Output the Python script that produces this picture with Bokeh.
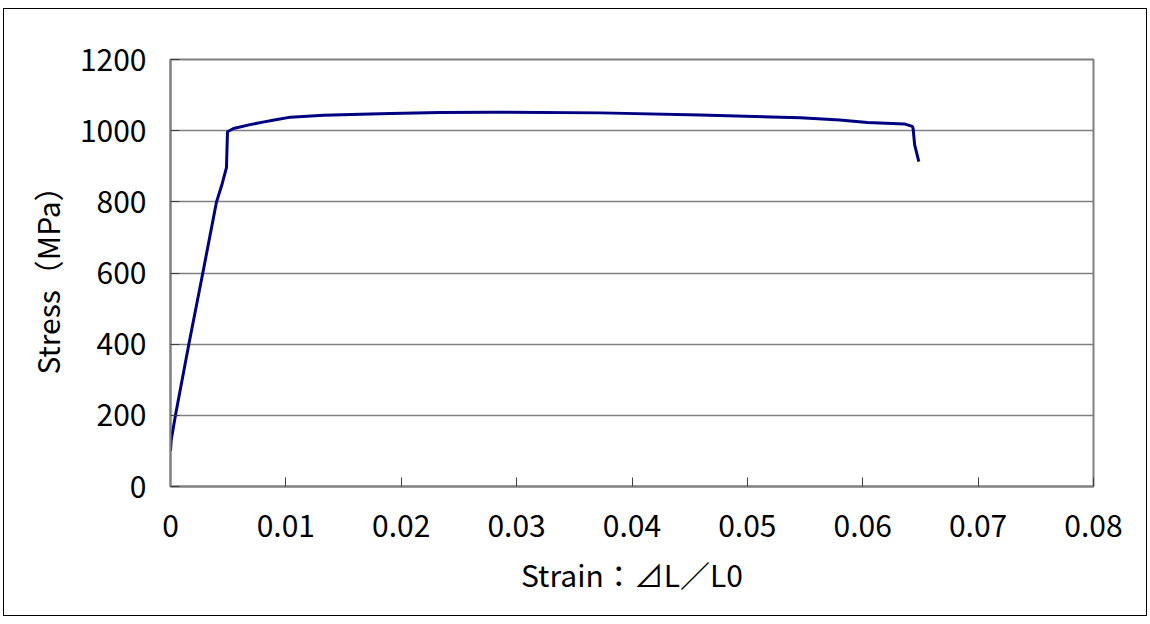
from bokeh.plotting import figure
from bokeh.models import FixedTicker, CustomJSTickFormatter, Range1d
from bokeh.embed import file_html
from bokeh.resources import INLINE

# Data
strain = [0.0, 0.00006, 0.00043, 0.00159, 0.0028, 0.00399, 0.00448, 0.00485,
          0.00494, 0.00546, 0.0069, 0.0080, 0.0090, 0.0104, 0.01326, 0.0165,
          0.01907, 0.0234, 0.0277, 0.0373, 0.0459, 0.0546, 0.0580, 0.0604,
          0.0636, 0.0643, 0.06436, 0.0645, 0.06486]
stress = [100, 130, 200, 400, 600, 800, 851, 896,
          997, 1006, 1017, 1024, 1030, 1038, 1043, 1046,
          1048, 1051, 1052, 1050, 1044, 1036, 1030, 1023,
          1019, 1012, 1007, 960, 913]

x_ticks = [0, 0.01, 0.02, 0.03, 0.04, 0.05, 0.06, 0.07, 0.08]
y_ticks = [0, 200, 400, 600, 800, 1000, 1200]

FONT = "Noto Sans CJK JP"

p = figure(width=1144, height=608, output_backend="svg", toolbar_location=None,
           x_range=Range1d(0, 0.08), y_range=Range1d(0, 1200),
           min_border_left=166, min_border_right=55, min_border_top=50,
           min_border_bottom=131)
p.styles = {"margin-left": "3px", "margin-top": "8px", "border": "1px solid black"}

p.line(strain, stress, line_color="#000080", line_width=3)

p.outline_line_color = "#808080"
p.outline_line_width = 2

p.xgrid.grid_line_color = None
p.ygrid.grid_line_color = "#808080"
p.ygrid.grid_line_width = 1.5
p.ygrid.ticker = FixedTicker(ticks=y_ticks)

for ax in (p.xaxis[0], p.yaxis[0]):
    ax.axis_line_color = "#808080"
    ax.axis_line_width = 2
    ax.major_tick_in = 9
    ax.major_tick_out = 0
    ax.major_tick_line_color = "#404040"
    ax.major_tick_line_width = 1
    ax.minor_tick_line_color = None
    ax.major_label_text_font = FONT
    ax.major_label_text_font_size = "30px"
    ax.major_label_text_color = "black"
    ax.axis_label_text_font = FONT
    ax.axis_label_text_font_size = "30px"
    ax.axis_label_text_font_style = "normal"
    ax.axis_label_text_color = "black"

p.xaxis.ticker = FixedTicker(ticks=x_ticks)
p.yaxis.ticker = FixedTicker(ticks=y_ticks)
p.xaxis.formatter = CustomJSTickFormatter(code="return tick == 0 ? '0' : tick.toFixed(2);")
p.xaxis.axis_label = "Strain：⊿L／L0"
p.yaxis.axis_label = "Stress（MPa）"
p.xaxis.major_label_standoff = 28
p.yaxis.major_label_standoff = 24
p.xaxis.axis_label_standoff = 12
p.yaxis.axis_label_standoff = 8

open("out.html", "w").write(file_html(p, INLINE))
